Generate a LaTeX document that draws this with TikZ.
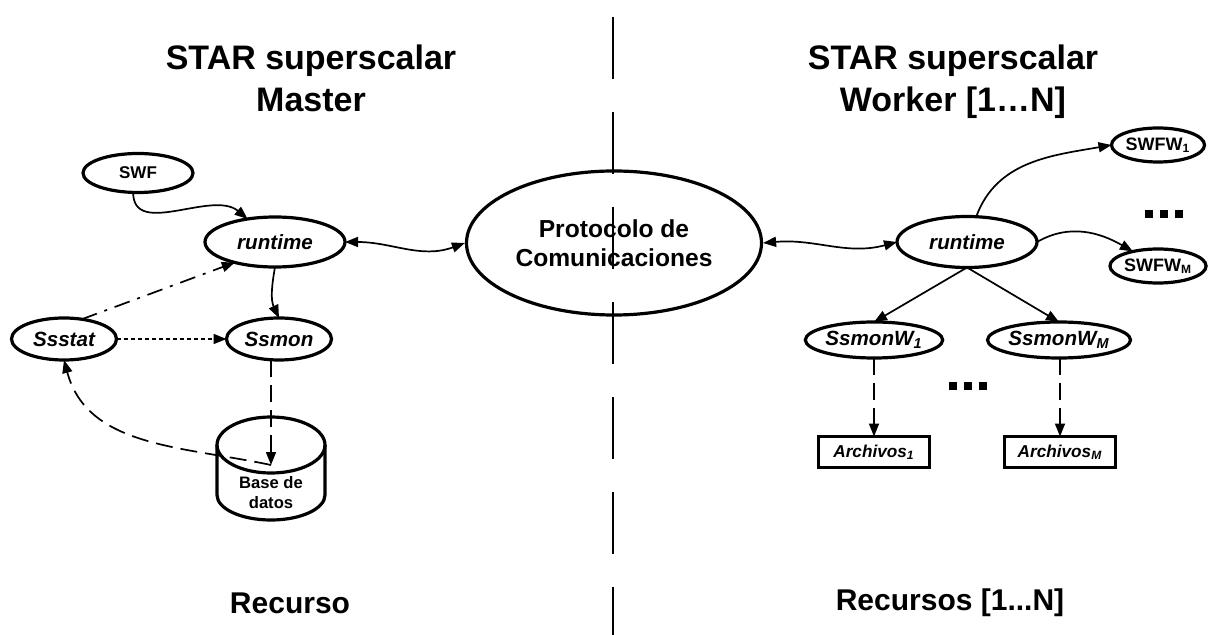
\documentclass[tikz,border=0pt]{standalone}
\usepackage{fontspec}
\setmainfont{Liberation Sans}
\usetikzlibrary{shapes.geometric,arrows.meta,backgrounds,positioning}

\begin{document}
\begin{tikzpicture}[x=0.5pt,y=0.5pt,>={Triangle[length=6.5pt,width=5pt]},
proc/.style={draw,line width=1.6pt,shape=ellipse,inner sep=0pt,outer sep=0pt,font=\bfseries\itshape\fontsize{10.3}{12}\selectfont},
prog/.style={draw,line width=1.6pt,shape=ellipse,inner sep=0pt,outer sep=0pt,font=\bfseries\fontsize{8.5}{10}\selectfont},
filebox/.style={draw,line width=1.5pt,shape=rectangle,inner sep=0pt,outer sep=0pt,minimum width=55.5pt,minimum height=15.5pt,font=\bfseries\itshape\fontsize{8.6}{10}\selectfont},
heading/.style={align=center,inner sep=0pt,font=\bfseries\fontsize{17}{21}\selectfont},
conn/.style={line width=0.85pt},
dashln/.style={conn,dash pattern=on 8.5pt off 4pt},
dotln/.style={conn,dash pattern=on 2pt off 1.5pt},
dashdotln/.style={conn,dash pattern=on 8pt off 4pt on 1.5pt off 4pt}]
\useasboundingbox (0,0) rectangle (1218,-635);
% master side
\node[heading,anchor=north] (ttlM) at (311,-44) {STAR superscalar\\Master};
\node[prog,minimum width=55pt,minimum height=19.5pt] (swf) at (138,-173) {SWF};
\node[proc,minimum width=70pt,minimum height=25pt] (rtM) at (275,-242) {runtime};
\node[proc,minimum width=52.5pt,minimum height=21pt] (sstat) at (64,-339) {Ssstat};
\node[proc,minimum width=52.5pt,minimum height=21pt] (smon) at (279,-339) {Ssmon};
\draw[line width=1.6pt] (217,-445) -- (217,-495) arc[start angle=180,end angle=360,x radius=27pt,y radius=12.5pt] -- (325,-445);
\draw[line width=1.6pt] (271,-445) ellipse[x radius=27pt,y radius=14pt];
\node[align=center,font=\bfseries\fontsize{8.3}{10}\selectfont] (db) at (271,-493) {Base de\\datos};
\coordinate (dbin) at (271,-465);
\node[heading,font=\bfseries\fontsize{15}{18}\selectfont] (resM) at (290,-603) {Recurso};
% middle
\node[draw,line width=1.6pt,shape=ellipse,inner sep=0pt,minimum width=147.5pt,minimum height=72pt,align=center,font=\bfseries\fontsize{12.3}{14.5}\selectfont] (prot) at (614,-243) {Protocolo de\\Comunicaciones};
% worker side
\node[heading,anchor=north] (ttlW) at (953,-44) {STAR superscalar\\Worker [1\ldots N]};
\node[proc,minimum width=70pt,minimum height=25.5pt] (rtW) at (967,-242) {runtime};
\node[prog,minimum width=46.5pt,minimum height=17pt,font=\bfseries\fontsize{9}{10}\selectfont] (swfw1) at (1158,-145) {SWFW\textsubscript{1}};
\node[prog,minimum width=46.5pt,minimum height=17pt,font=\bfseries\fontsize{9}{10}\selectfont] (swfwM) at (1158,-266) {SWFW\textsubscript{M}};
\node[inner sep=0pt] (dotsA) at (1164,-214) {\rule{3.8pt}{3.8pt}\hspace{3.7pt}\rule{3.8pt}{3.8pt}\hspace{3.7pt}\rule{3.8pt}{3.8pt}};
\node[proc,minimum width=65.5pt,minimum height=18pt] (smW1) at (874,-340) {SsmonW\textsubscript{1}};
\node[proc,minimum width=64pt,minimum height=18pt] (smWM) at (1059,-340) {SsmonW\textsubscript{M}};
\node[inner sep=0pt] (dotsB) at (968,-386) {\rule{3.8pt}{3.8pt}\hspace{3.7pt}\rule{3.8pt}{3.8pt}\hspace{3.7pt}\rule{3.8pt}{3.8pt}};
\node[filebox] (arch1) at (874,-452) {Archivos\textsubscript{1}};
\node[filebox] (archM) at (1060,-452) {Archivos\textsubscript{M}};
\node[heading,font=\bfseries\fontsize{15}{18}\selectfont] (resW) at (950,-603) {Recursos [1...N]};
% connectors
\draw[conn,->] (swf.-104) to[out=-90,in=140] (rtM.140);
\draw[conn,<->] (rtM.east) to[out=0,in=200] (prot.west);
\draw[conn,->] (rtM.south) to[out=-100,in=115] (smon.north);
\draw[dashdotln,->] (sstat.48) -- (rtM.207);
\draw[dotln,->] (sstat.east) -- (smon.west);
\draw[dashln,->] (dbin |- smon.south) -- (dbin);
\draw[dashln,->] (dbin) to[out=168,in=-75] (sstat.south);
\draw[conn,<->] (prot.east) to[out=5,in=195] (rtW.west);
\draw[conn,->] (rtW.70) to[out=70,in=190] (swfw1.west);
\draw[conn,->] (rtW.east) to[out=30,in=150] (swfwM.150);
\draw[conn,->] (rtW.south) -- (smW1.north);
\draw[conn,->] (rtW.south) -- (smWM.north);
\draw[dashln,->] (smW1.south -| arch1.north) -- (arch1.north);
\draw[dashln,->] (smWM.south -| archM.north) -- (archM.north);
% divider
\coordinate (divtop) at (613,-17);
\coordinate (divbot) at (613,-635);
\draw[line width=0.85pt,dash pattern=on 31pt off 16.5pt] (divtop) -- (divbot);
\end{tikzpicture}
\end{document}
